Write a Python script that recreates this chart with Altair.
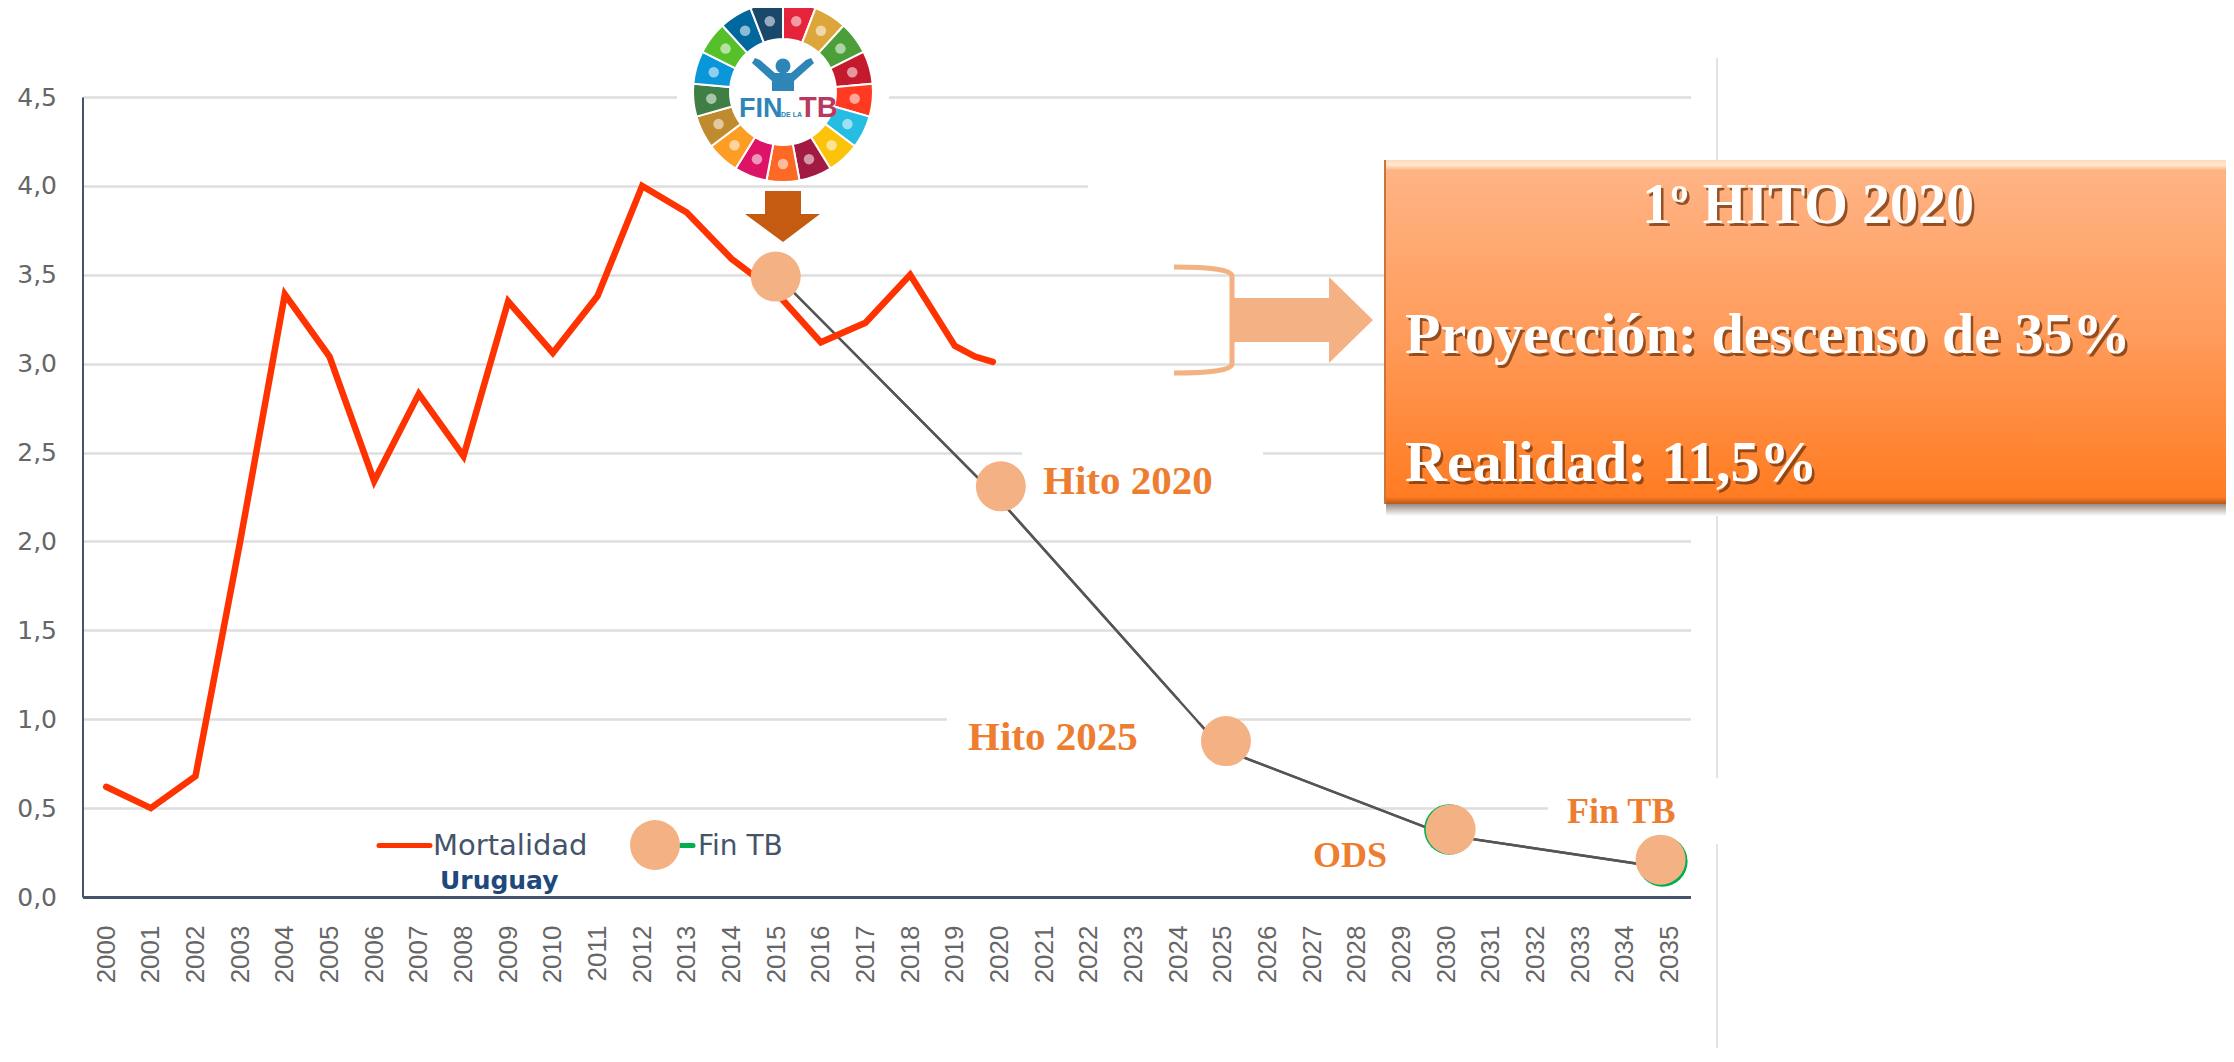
import math
import altair as alt
import pandas as pd

# ---------- data ----------
YEARS = list(range(2000, 2036))
MORT_YEARS = list(range(2000, 2020)) + [2019.45, 2019.85]
MORT = [0.62, 0.50, 0.68, 2.00, 3.39, 3.04, 2.34, 2.83, 2.48, 3.35, 3.06,
        3.38, 4.00, 3.85, 3.59, 3.40, 3.12, 3.23, 3.50, 3.10, 3.04, 3.01]
FIN_YEARS = [2015, 2020, 2025, 2030, 2035]
FIN = [3.50, 2.235, 0.83, 0.348, 0.16]
HITO_YEARS = [2014.99, 2020.03, 2025.07, 2030.1, 2034.8]
HITO = [3.49, 2.31, 0.877, 0.38, 0.21]
GREEN_YEARS = [2030.07, 2034.84]
GREEN = [0.38, 0.20]
Y_TICKS = [0, 0.5, 1, 1.5, 2, 2.5, 3, 3.5, 4, 4.5]
SDG = ["#E5243B", "#DDA63A", "#4C9F38", "#C5192D", "#FF3A21", "#26BDE2", "#FCC30B", "#A21942",
       "#FD6925", "#DD1367", "#FD9D24", "#BF8B2E", "#3F7E44", "#0A97D9", "#56C02B", "#00689D", "#19486A"]

X0, Y0 = 82.5, 97      # page position of the plot area
W, H = 1608, 800
PAGE_RIGHT, PAGE_BOTTOM = 2226, 1048
ONE = alt.Data(values=[{"a": 1}])


def px(v):
    return v - X0


def py(v):
    return v - Y0


def rect(x1, y1, x2, y2, **kw):
    return alt.Chart(ONE).mark_rect(**kw).encode(
        x=alt.value(px(x1)), x2=alt.value(px(x2)), y=alt.value(py(y1)), y2=alt.value(py(y2)))


def vrule(x, y1, y2, color="#E3E3E3", width=2):
    return alt.Chart(ONE).mark_rule(color=color, strokeWidth=width).encode(
        x=alt.value(px(x)), y=alt.value(py(y1)), y2=alt.value(py(y2)))


def hrule(x1, x2, y, color, width):
    return alt.Chart(ONE).mark_rule(color=color, strokeWidth=width, strokeCap="round").encode(
        x=alt.value(px(x1)), x2=alt.value(px(x2)), y=alt.value(py(y)))


def text(s, x, y, size, color, font="Liberation Serif", weight="bold", align="left", opacity=1):
    return alt.Chart(ONE).mark_text(text=s, fontSize=size, font=font, fontWeight=weight, color=color,
                                    align=align, baseline="alphabetic", opacity=opacity).encode(
        x=alt.value(px(x)), y=alt.value(py(y)))


def shape(cmds, color, stroke=None, sw=0):
    xs = [v for _, c in cmds for v in c[0::2]]
    ys = [v for _, c in cmds for v in c[1::2]]
    cx, cy = (min(xs) + max(xs)) / 2, (min(ys) + max(ys)) / 2
    s = max(max(xs) - min(xs), max(ys) - min(ys)) / 2
    parts = []
    for k, c in cmds:
        vals = [(v - (cx if i % 2 == 0 else cy)) / s for i, v in enumerate(c)]
        parts.append(k + " ".join(f"{v:.4f}" for v in vals))
    path = " ".join(parts) + (" Z" if color else "")
    kw = dict(shape=path, size=(2 * s) ** 2, opacity=1)
    if color:
        kw.update(filled=True, color=color, strokeWidth=0)
    else:
        kw.update(filled=False, stroke=stroke, strokeWidth=sw, fillOpacity=0)
    return alt.Chart(ONE).mark_point(**kw).encode(x=alt.value(px(cx)), y=alt.value(py(cy)))


def poly(pts, color):
    return shape([("M", list(pts[0]))] + [("L", list(p)) for p in pts[1:]], color)


def grad(stops):
    return alt.LinearGradient(gradient="linear", x1=0, y1=0, x2=0, y2=1,
                              stops=[alt.GradientStop(offset=o, color=c) for o, c in stops])


x_scale = alt.Scale(domain=[1999.47, 2035.47], nice=False, zero=False)
y_scale = alt.Scale(domain=[0, 4.5], nice=False)

mort_df = pd.DataFrame({"year": MORT_YEARS, "v": MORT})
fin_df = pd.DataFrame({"year": FIN_YEARS, "v": FIN})
hito_df = pd.DataFrame({"year": HITO_YEARS, "v": HITO})
green_df = pd.DataFrame({"year": GREEN_YEARS, "v": GREEN})

# axes layer: the grid sits under the masks, the projection line is drawn after them
base = alt.Chart(fin_df).mark_line(color="#555555", strokeWidth=2.4).encode(
    x=alt.X("year:Q", scale=x_scale, title=None, axis=alt.Axis(
        values=YEARS, format="d", labelAngle=270, labelFontSize=26, labelFont="Liberation Sans",
        labelColor="#666666", labelPadding=28, ticks=False, grid=False, domainColor="#44546A",
        domainWidth=3, labelOverlap=False, labelFlush=False, labelBaseline="middle")),
    y=alt.Y("v:Q", scale=y_scale, title=None, axis=alt.Axis(
        values=Y_TICKS, labelExpr="replace(format(datum.value,'.1f'),'.',',')", labelFontSize=25,
        labelFont="DejaVu Sans", labelColor="#666666", labelPadding=26, ticks=False, grid=True,
        gridColor="#DEDEDE", gridWidth=2.5, domainColor="#44546A", domainWidth=2, labelFlush=False)),
)
fin_line = alt.Chart(fin_df).mark_line(color="#555555", strokeWidth=2.4).encode(
    x=alt.X("year:Q", scale=x_scale), y=alt.Y("v:Q", scale=y_scale))

masks = [rect(677, 86, 889, 106, color="white"),
         rect(1088, 176, 1700, 196, color="white"),
         rect(1022, 445, 1263, 464, color="white"),
         rect(947, 700, 1231, 722, color="white"),
         rect(1548, 800, 1700, 816, color="white")]

frames = [vrule(3, 58, PAGE_BOTTOM), vrule(1717, 58, 778), vrule(1717, 844, PAGE_BOTTOM)]

mort = alt.Chart(mort_df).mark_line(color="#FF3300", strokeWidth=6.5, strokeCap="round").encode(
    x=alt.X("year:Q", scale=x_scale), y=alt.Y("v:Q", scale=y_scale))

green = alt.Chart(green_df).mark_point(filled=True, color="#00B050", size=2550, opacity=1, strokeWidth=0).encode(
    x=alt.X("year:Q", scale=x_scale), y=alt.Y("v:Q", scale=y_scale))
hito = alt.Chart(hito_df).mark_point(filled=True, color="#F4B183", size=2500, opacity=1, strokeWidth=0).encode(
    x=alt.X("year:Q", scale=x_scale), y=alt.Y("v:Q", scale=y_scale))

legend = [hrule(379, 430, 845.5, "#FF3300", 5),
          text("Mortalidad", 433, 855, 29, "#44546A", "DejaVu Sans", "normal"),
          hrule(680, 693, 845.5, "#00B050", 5),
          alt.Chart(ONE).mark_point(filled=True, color="#F4B183", size=2500, opacity=1, strokeWidth=0).encode(
              x=alt.value(px(655)), y=alt.value(py(845))),
          text("Fin TB", 698, 855, 28, "#44546A", "DejaVu Sans", "normal"),
          text("Uruguay", 440, 888.5, 25, "#1F497D", "DejaVu Sans", "bold")]

labels = [text("Hito 2020", 1043, 494, 41, "#ED7D31"),
          text("Hito 2025", 968, 750, 41, "#ED7D31"),
          text("ODS", 1313, 867, 36, "#ED7D31"),
          text("Fin TB", 1567, 823, 36, "#ED7D31")]

wheel_df = pd.DataFrame({"i": list(range(17)), "c": SDG})
wheel = alt.Chart(wheel_df).transform_calculate(
    t0="datum.i*2*PI/17", t1="(datum.i+1)*2*PI/17"
).mark_arc(radius=90, radius2=53, stroke="white", strokeWidth=2).encode(
    theta=alt.Theta("t0:Q", scale=None), theta2="t1:Q",
    color=alt.Color("c:N", scale=None), x=alt.value(px(783)), y=alt.value(py(92)))

icon_df = pd.DataFrame({
    "x": [px(783) + 72 * math.sin((i + 0.5) * 2 * math.pi / 17) for i in range(17)],
    "y": [py(92) - 72 * math.cos((i + 0.5) * 2 * math.pi / 17) for i in range(17)],
})
icons = alt.Chart(icon_df).mark_point(filled=True, color="white", size=110, opacity=0.55, strokeWidth=0).encode(
    x=alt.X("x:Q", scale=None), y=alt.Y("y:Q", scale=None))

logo = [
    wheel, icons,
    alt.Chart(ONE).mark_point(filled=True, color="#2E86B8", size=225, opacity=1, strokeWidth=0).encode(
        x=alt.value(px(783)), y=alt.value(py(66))),
    poly([(755, 58), (760, 60), (775, 73), (791, 73), (806, 60), (811, 58), (814, 63), (794, 81),
          (794, 91), (772, 91), (772, 81), (752, 63)], "#2E86B8"),
    text("FIN", 739, 117, 27, "#2E86B8", "Liberation Sans", "bold"),
    text("DE LA", 781, 117, 7, "#2E86B8", "Liberation Sans", "bold"),
    text("TB", 799, 117, 29, "#B83A5E", "Liberation Sans", "bold"),
]

down_arrow = poly([(765, 191), (801, 191), (801, 214), (820, 214), (783, 242), (745, 214), (765, 214)], "#C55A11")

bracket = shape([("M", [1174, 267]), ("Q", [1231, 267, 1232, 276]), ("L", [1232, 364]),
                 ("Q", [1231, 373, 1174, 373])], None, "#F4B183", 5)
side_arrow = poly([(1234, 298), (1329, 298), (1329, 277), (1373, 320), (1329, 363), (1329, 342), (1234, 342)], "#F4B183")

box = [
    rect(1386, 504, 2232, 516, color=grad([(0, "#9A8A80"), (1, "#FFFFFF")])),
    rect(1384, 160, 2230, 504, color=grad([(0, "#FFB587"), (0.5, "#FF9C5C"), (1, "#FF7A1F")])),
    rect(1384, 160, 2230, 170, color=grad([(0, "#FFD9BC"), (0.5, "#FFE9CF"), (1, "#FFB587")])),
    rect(1384, 497, 2230, 504, color=grad([(0, "#FF7A1F"), (1, "#B5591B")])),
    rect(1384, 160, 1386, 504, color="#C9753B"),
]
box_text = []
for s, x, y, al, fs in [("1º HITO 2020", 1808, 223, "center", 56),
                        ("Proyección: descenso de 35%", 1405, 353, "left", 58),
                        ("Realidad: 11,5%", 1405, 481, "left", 58)]:
    box_text.append(text(s, x + 2.5, y + 3, fs, "#7A3A10", align=al, opacity=0.8))
    box_text.append(text(s, x, y, fs, "#FFFFFF", align=al))

chart = alt.layer(
    base, *masks, *frames, fin_line, mort, green, hito, *legend, *labels, *logo, down_arrow,
    bracket, side_arrow, *box, *box_text
).properties(
    width=W, height=H, background="white",
    padding={"left": X0 - 8, "top": Y0 - 8, "right": PAGE_RIGHT - X0 - W, "bottom": PAGE_BOTTOM - Y0 - H},
    autosize=alt.AutoSizeParams(type="none"),
).configure_view(stroke=None)

chart.save("out.html", embed_options={"renderer": "svg", "actions": False})
